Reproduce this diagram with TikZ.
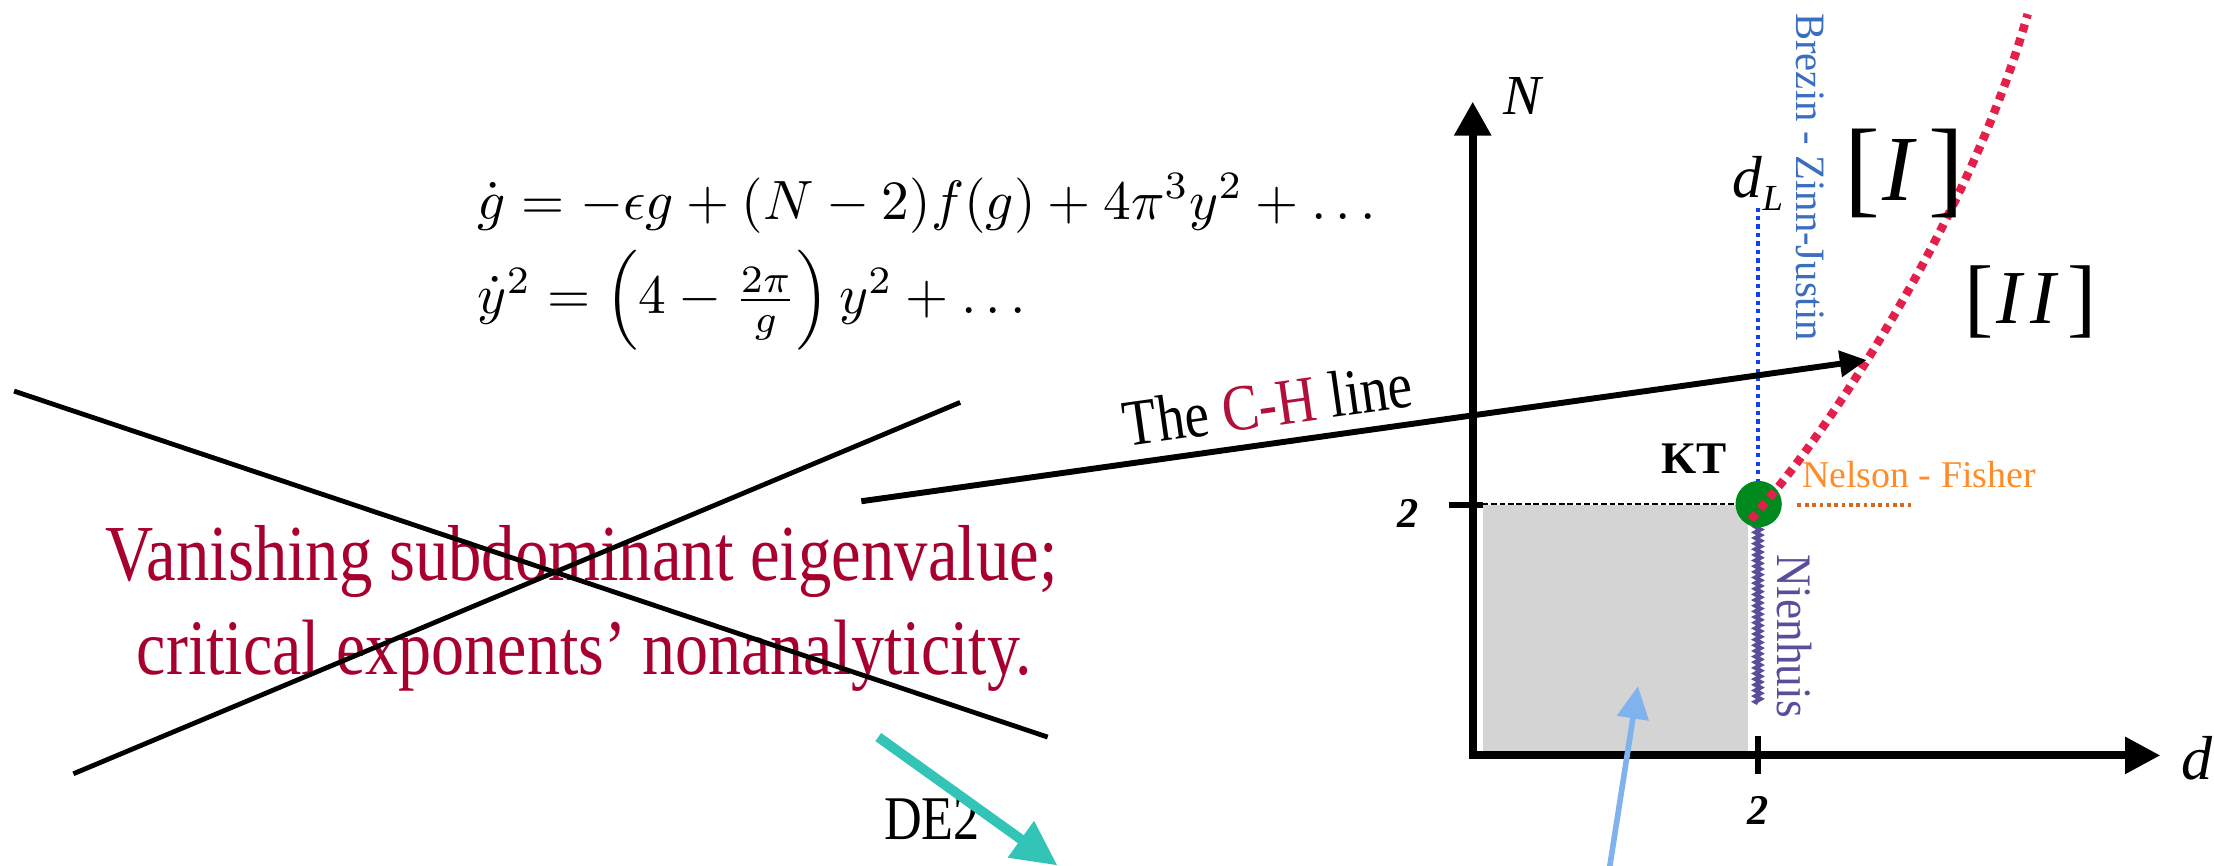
\documentclass[tikz,border=0pt]{standalone}
\usepackage{amsmath}
\usepackage{fontspec}
\setmainfont{Liberation Serif}
\newfontfamily\condf[FakeStretch=0.84]{Liberation Serif}
\usetikzlibrary{arrows.meta,decorations.pathmorphing}
\newcommand\myfs[1]{\fontsize{#1}{#1}\selectfont}
\definecolor{crim}{HTML}{A8002E}
\definecolor{chred}{HTML}{B0103A}
\definecolor{reddot}{HTML}{E2204A}
\definecolor{bzblue}{HTML}{3A6EC0}
\definecolor{dotblue}{HTML}{1040F0}
\definecolor{nien}{HTML}{5A4E9B}
\definecolor{nforange}{HTML}{FF8C28}
\definecolor{nfline}{HTML}{D2691E}
\definecolor{ktgreen}{HTML}{008A1E}
\definecolor{tealarrow}{HTML}{33C4B8}
\definecolor{lblue}{HTML}{80B3EE}
\definecolor{grayfill}{HTML}{D4D4D4}
\begin{document}
\begin{tikzpicture}[x=0.5pt,y=-0.5pt,
  axisline/.style={line width=2.8pt,{Triangle[length=12pt,width=12.5pt]}-{Triangle[length=12.5pt,width=12.5pt]}},
  crossline/.style={line width=1.7pt},
  charrow/.style={line width=2.1pt,-{Triangle[length=9.5pt,width=9pt]}},
  tickline/.style={line width=2pt},
  lab/.style={inner sep=0pt}
]
\useasboundingbox (0,0) rectangle (1568,613);
% shaded region
\fill[grayfill] (1050,358) rectangle (1238,533);
\draw[line width=0.5pt,dash pattern=on 2pt off 1pt] (1050,357) -- (1234,357);
% axes
\coordinate (Ntip) at (1043,72);
\coordinate (O) at (1043,535);
\coordinate (dtip) at (1530,535);
\draw[axisline] (Ntip) -- (O) -- (dtip);
\draw[tickline] (1026,357.5) -- (1050,357.5);
\draw[tickline] (1245,521) -- (1245,548);
% Brezin - Zinn-Justin line
\coordinate (bz1) at (1245,147);
\coordinate (bz2) at (1245,345);
\draw[dotblue,line width=1.5pt,dash pattern=on 1.5pt off 1.5pt] (bz1) -- (bz2);
% Nienhuis line
\coordinate (ni1) at (1245,370);
\coordinate (ni2) at (1245,498);
\draw[nien,line width=1.5pt,decorate,decoration={zigzag,segment length=2pt,amplitude=0.9pt}] (ni1) -- (ni2);
% Nelson-Fisher line
\coordinate (nf1) at (1273,357.5);
\coordinate (nf2) at (1356,357.5);
\draw[nfline,line width=1.6pt,dash pattern=on 1.3pt off 1.3pt] (nf1) -- (nf2);
% KT point
\fill[ktgreen] (1245.5,357) circle[radius=8.2pt];
% C-H curve
\coordinate (ch0) at (1240,368);
\coordinate (ch3) at (1436,10);
\draw[reddot,line width=3pt,dash pattern=on 2.8pt off 2.3pt] (ch0) .. controls (1305,295) and (1400,140) .. (ch3);
% labels on the plot
\node[lab] (Nlab) at (1078,68) {\myfs{20}\itshape N};
\node[lab] (dlab) at (1556,537) {\myfs{22}\itshape d};
\node[lab] (two1) at (997,364) {\myfs{15}\bfseries\itshape 2};
\node[lab] (two2) at (1245,574) {\myfs{15}\bfseries\itshape 2};
\node[lab] (kt) at (1200,325) {\myfs{16}\bfseries KT};
\node[lab] (dL) at (1245,130) {\myfs{21}\itshape d\raisebox{-0.22em}{\myfs{13}L}};
\node[lab,anchor=base] (regI) at (1348.5,142) {{\myfs{38}\raisebox{-1pt}{[}}\kern1pt{\myfs{33}\itshape I}\kern5pt{\myfs{38}\raisebox{-1pt}{]}}};
\node[lab,anchor=base] (regII) at (1438,229) {{\myfs{31}\raisebox{-1pt}{[}}\kern1pt{\myfs{27}\itshape I\kern3pt I}\kern4pt{\myfs{31}\raisebox{-1pt}{]}}};
\node[lab,rotate=-90,anchor=base west,text=bzblue] (bzj) at (1272.5,9) {\resizebox{116pt}{9.8pt}{Brezin - Zinn-Justin}};
\node[lab,rotate=-90,anchor=base west,text=nien] (nien) at (1259,392) {\resizebox{58pt}{12.2pt}{Nienhuis}};
\node[lab,anchor=base west,text=nforange] (nf) at (1276,345) {\myfs{13.4}Nelson - Fisher};
% equations
\node[lab,anchor=west] (eq) at (338,185) {\resizebox{318pt}{!}{$\begin{array}{@{}l@{}}
\dot{g}=-\epsilon g+(N-2)f(g)+4\pi^3y^2+\ldots\\[2pt]
\dot{y}^2=\left(4-\frac{2\pi}{g}\right)y^2+\ldots
\end{array}$}};
% crossed-out statement
\node[lab,anchor=base,text=crim] (van1) at (412,411) {\resizebox{337pt}{!}{\condf\myfs{28}Vanishing subdominant eigenvalue;}};
\node[lab,anchor=base,text=crim] (van2) at (414,478) {\resizebox{317pt}{!}{\condf\myfs{28}critical exponents’ nonanalyticity.}};
\coordinate (xa1) at (10,277);
\coordinate (xa2) at (742,522);
\coordinate (xb1) at (52,548);
\coordinate (xb2) at (680,285);
\draw[crossline] (xa1) -- (xa2);
\draw[crossline] (xb1) -- (xb2);
% C-H line arrow
\node[lab,anchor=base,rotate=8] (chlab) at (900,302) {\resizebox{103pt}{!}{\condf\myfs{22}The \textcolor{chred}{C-H} line}};
\coordinate (chs) at (610,355);
\coordinate (che) at (1322,255);
\draw[charrow] (chs) -- (che);
% DE2 arrow
\node[lab] (de2) at (660,580) {\condf\myfs{22}DE2};
\coordinate (de2s) at (622,522);
\coordinate (de2e) at (749,613);
\draw[tealarrow,line width=3.5pt,-{Triangle[length=16pt,width=15pt]}] (de2s) -- (de2e);
% light blue arrow
\coordinate (lbs) at (1140,614);
\coordinate (lbe) at (1160,486);
\draw[lblue,line width=2pt,-{Triangle[length=11.5pt,width=11pt]}] (lbs) -- (lbe);
\end{tikzpicture}
\end{document}
